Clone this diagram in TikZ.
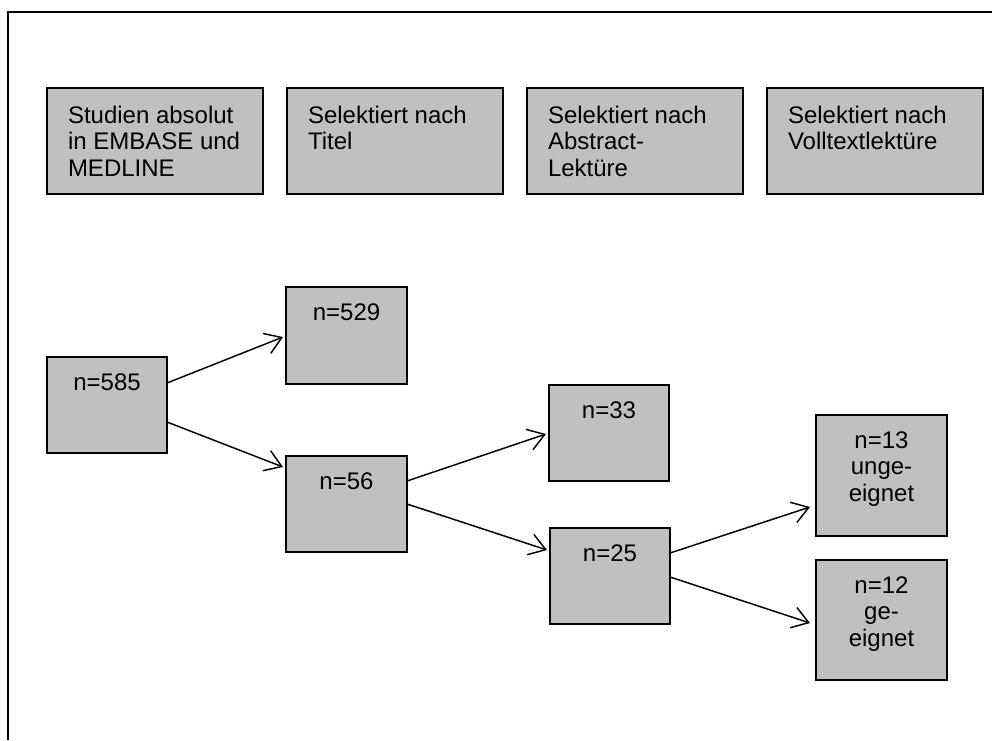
\documentclass[tikz,border=0pt]{standalone}
\usepackage{fontspec}
\setmainfont{Liberation Sans}
\usetikzlibrary{arrows.meta,calc}
\definecolor{boxgray}{HTML}{C0C0C0}
\newcommand\hdtxt[1]{\begin{minipage}[t][79.5pt][t]{162pt}\raggedright\leftskip=15.75pt\rule{0pt}{26.25pt}#1\end{minipage}}
\newcommand\nbtxt[3]{\begin{minipage}[t][#2][t]{#1}\centering\rule{0pt}{24.75pt}#3\end{minipage}}
\begin{document}
\begin{tikzpicture}[x=0.75pt,y=-0.75pt,
  boxst/.style={draw=black, line width=1.5pt, fill=boxgray, inner sep=0pt, outer sep=0pt, font=\fontsize{18}{20}\selectfont},
  arr/.style={line width=1.1pt, -{Straight Barb[length=12pt,width=16pt,line width=1.1pt]}},
  framest/.style={line width=1.6pt}]
\useasboundingbox (0,0) rectangle (992,740);
\draw[framest] (8,740) -- (8,12) -- (992,12);

% header boxes
\node[boxst] (h1) at (155,141) {\hdtxt{Studien absolut\\in EMBASE und\\MEDLINE}};
\node[boxst] (h2) at (395,141) {\hdtxt{Selektiert nach\\Titel}};
\node[boxst] (h3) at (635,141) {\hdtxt{Selektiert nach\\Abstract-\\Lektüre}};
\node[boxst] (h4) at (875,141) {\hdtxt{Selektiert nach\\Volltextlektüre}};

% count boxes
\node[boxst] (n585) at (107,405) {\nbtxt{90pt}{72pt}{n=585}};
\node[boxst] (n529) at (346.5,335.5) {\nbtxt{90.75pt}{72.75pt}{n=529}};
\node[boxst] (n56) at (346.5,504) {\nbtxt{90.75pt}{72pt}{n=56}};
\node[boxst] (n33) at (609,433) {\nbtxt{90pt}{72pt}{n=33}};
\node[boxst] (n25) at (610,576) {\nbtxt{90pt}{72pt}{n=25}};
\node[boxst] (n13) at (881.5,475.5) {\nbtxt{98.25pt}{90.75pt}{n=13\\unge-\\eignet}};
\node[boxst] (n12) at (881.5,620) {\nbtxt{98.25pt}{90pt}{n=12\\ge-\\eignet}};

% arrows
\draw[arr] ($(n585.east)+(0,-22)$) -- ($(n529.west)+(-3,1.5)$);
\draw[arr] ($(n585.east)+(0,17)$) -- ($(n56.west)+(-3,-37)$);
\draw[arr] ($(n56.east)+(0,-23)$) -- ($(n33.west)+(-3,1)$);
\draw[arr] ($(n56.east)+(0,0)$) -- ($(n25.west)+(-3,-26)$);
\draw[arr] ($(n25.east)+(0,-23)$) -- ($(n13.west)+(-6,31.5)$);
\draw[arr] ($(n25.east)+(0,1)$) -- ($(n12.west)+(-6,3)$);
\end{tikzpicture}
\end{document}
